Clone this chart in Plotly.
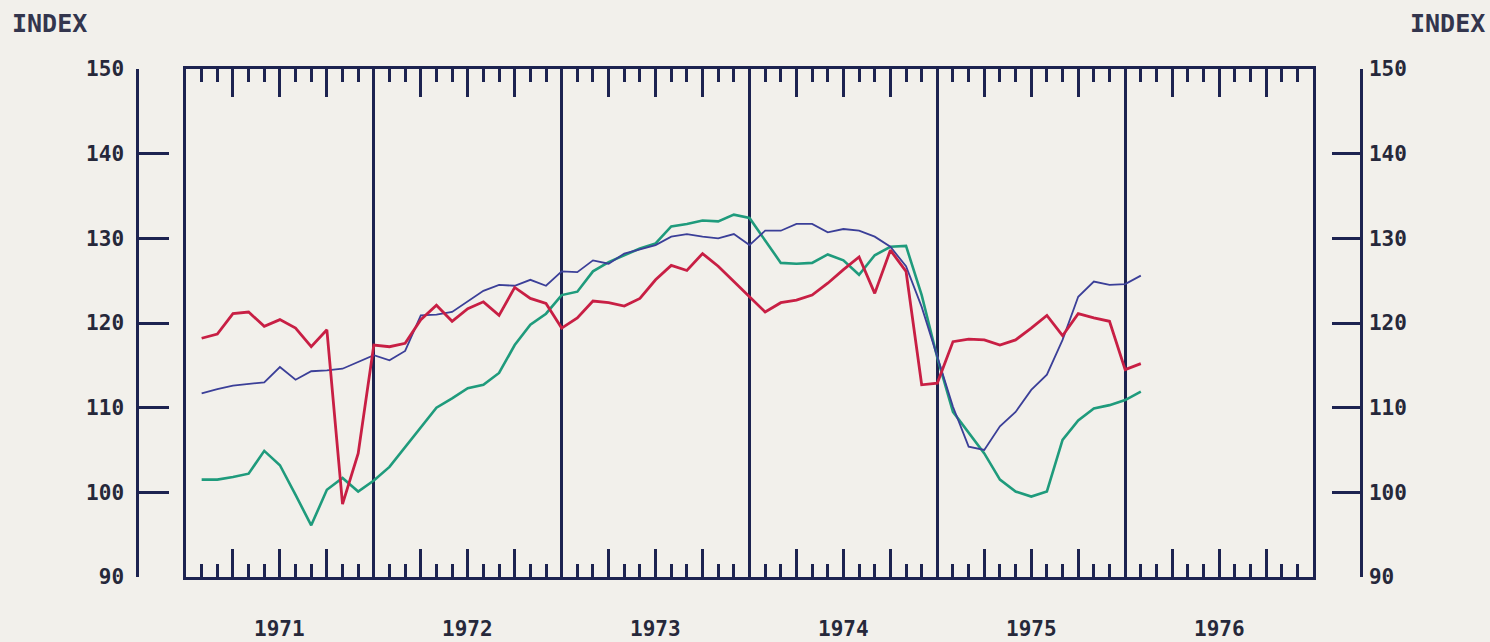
import plotly.graph_objects as go

# month index (1 = end of Jan 1971 ... 61 = end of Jan 1976)
months = list(range(1, 62))

red_series = [118.2, 118.7, 121.1, 121.3, 119.6, 120.4, 119.4, 117.2, 119.2, 98.6,
              104.6, 117.4, 117.2, 117.6, 120.4, 122.1, 120.2, 121.7, 122.5, 120.9,
              124.2, 122.9, 122.3, 119.4, 120.6, 122.6, 122.4, 122.0, 122.9, 125.1,
              126.8, 126.2, 128.2, 126.7, 124.9, 123.1, 121.3, 122.4, 122.7, 123.3,
              124.7, 126.3, 127.8, 123.5, 128.6, 126.1, 112.7, 112.9, 117.8, 118.1,
              118.0, 117.4, 118.0, 119.4, 120.9, 118.5, 121.1, 120.6, 120.2, 114.5,
              115.2]

blue_series = [111.7, 112.2, 112.6, 112.8, 113.0, 114.8, 113.3, 114.3, 114.4, 114.6,
               115.4, 116.2, 115.6, 116.7, 120.9, 121.0, 121.3, 122.6, 123.8, 124.5,
               124.4, 125.1, 124.4, 126.1, 126.0, 127.4, 127.0, 128.2, 128.7, 129.2,
               130.2, 130.5, 130.2, 130.0, 130.5, 129.2, 130.9, 130.9, 131.7, 131.7,
               130.7, 131.1, 130.9, 130.2, 129.0, 126.7, 121.9, 116.0, 110.1, 105.4,
               105.0, 107.8, 109.5, 112.1, 113.9, 118.0, 123.1, 124.9, 124.5, 124.6,
               125.6]

green_series = [101.5, 101.5, 101.8, 102.2, 104.9, 103.2, 99.7, 96.1, 100.3, 101.7,
                100.1, 101.4, 103.0, 105.3, 107.7, 110.0, 111.1, 112.3, 112.7, 114.1,
                117.4, 119.8, 121.1, 123.3, 123.7, 126.1, 127.2, 128.0, 128.8, 129.4,
                131.4, 131.7, 132.1, 132.0, 132.8, 132.4, 129.8, 127.1, 127.0, 127.1,
                128.1, 127.4, 125.7, 128.0, 129.0, 129.1, 123.3, 115.9, 109.5, 107.0,
                104.6, 101.5, 100.1, 99.5, 100.1, 106.2, 108.5, 109.9, 110.3, 110.9,
                111.9]

year_labels = ["1971", "1972", "1973", "1974", "1975", "1976"]
year_centers = [6, 18, 30, 42, 54, 66]
year_bounds = [12, 24, 36, 48, 60]
y_ticks = [90, 100, 110, 120, 130, 140, 150]

W, H = 1490, 642
ML, MR, MT, MB = 137, 129, 69, 65
PW = W - ML - MR
PH = H - MT - MB
FRAME = "#1d2350"
BG = "#f2f0eb"
TXT = "#26283a"
FONT = "DejaVu Sans Mono"

fig = go.Figure()
fig.add_trace(go.Scatter(x=months, y=green_series, mode="lines",
                         line=dict(color="#1f9b7c", width=2.6), showlegend=False))
fig.add_trace(go.Scatter(x=months, y=blue_series, mode="lines",
                         line=dict(color="#3b3f98", width=1.8), showlegend=False))
fig.add_trace(go.Scatter(x=months, y=red_series, mode="lines",
                         line=dict(color="#c81f44", width=2.8), showlegend=False))
# empty traces that switch on the side axes
fig.add_trace(go.Scatter(x=[None], y=[None], yaxis="y2", showlegend=False))
fig.add_trace(go.Scatter(x=[None], y=[None], yaxis="y3", showlegend=False))
fig.add_trace(go.Scatter(x=[None], y=[None], xaxis="x2", showlegend=False))

d0 = (186 - ML) / PW
d1 = (1313 - ML) / PW

fig.update_layout(
    width=W, height=H,
    margin=dict(l=ML, r=MR, t=MT, b=MB),
    paper_bgcolor=BG, plot_bgcolor=BG,
    xaxis=dict(domain=[d0, d1], range=[0, 72], showgrid=False, zeroline=False,
               showline=True, linecolor=FRAME, linewidth=2.5, mirror="ticks",
               tickmode="array", tickvals=list(range(3, 72, 3)), ticktext=[""] * 23,
               ticks="inside", ticklen=28, tickwidth=2.5, tickcolor=FRAME,
               minor=dict(tickmode="linear", tick0=0, dtick=1, ticks="inside",
                          ticklen=13, tickwidth=2.5, tickcolor=FRAME)),
    xaxis2=dict(domain=[d0, d1], range=[0, 72], overlaying="x", anchor="y",
                tickmode="array", tickvals=year_bounds, ticktext=[""] * 5,
                showgrid=True, gridcolor=FRAME, gridwidth=2.5, ticks="",
                showline=False, zeroline=False),
    yaxis=dict(range=[90, 150], showgrid=False, zeroline=False, showticklabels=False,
               showline=True, linecolor=FRAME, linewidth=2.5, mirror=True, ticks=""),
    yaxis2=dict(range=[90, 150], overlaying="y", anchor="free", position=0, side="left",
                showgrid=False, zeroline=False, showline=True, linecolor=FRAME, linewidth=2.5,
                tickmode="array", tickvals=y_ticks, ticks="inside", ticklen=30,
                tickwidth=2.5, tickcolor=FRAME, ticklabelstandoff=8,
                tickfont=dict(family=FONT, size=21, color=TXT, weight="bold")),
    yaxis3=dict(range=[90, 150], overlaying="y", anchor="free", position=1, side="right",
                showgrid=False, zeroline=False, showline=True, linecolor=FRAME, linewidth=2.5,
                tickmode="array", tickvals=y_ticks, ticks="inside", ticklen=28,
                tickwidth=2.5, tickcolor=FRAME, ticklabelstandoff=2,
                tickfont=dict(family=FONT, size=21, color=TXT, weight="bold")),
)

annotations = []
for lbl, xc in zip(year_labels, year_centers):
    annotations.append(dict(x=xc, xref="x", y=(577 - 629) / PH, yref="paper",
                            text=lbl, showarrow=False, xanchor="center", yanchor="middle",
                            font=dict(family=FONT, size=21, color=TXT, weight="bold")))
annotations.append(dict(x=(10 - ML) / PW, xref="paper", y=(577 - 24) / PH, yref="paper",
                        text="INDEX", showarrow=False, xanchor="left", yanchor="middle",
                        font=dict(family=FONT, size=25, color="#33354d", weight="bold")))
annotations.append(dict(x=(1487 - ML) / PW, xref="paper", y=(577 - 24) / PH, yref="paper",
                        text="INDEX", showarrow=False, xanchor="right", yanchor="middle",
                        font=dict(family=FONT, size=25, color="#33354d", weight="bold")))
fig.update_layout(annotations=annotations)

fig.write_html(
    "out.html",
    config={"displayModeBar": False},
    post_script=("document.body.style.margin='0';document.body.style.padding='0';"
                 "document.body.style.overflow='hidden';"
                 "document.body.style.background='" + BG + "';"),
)
